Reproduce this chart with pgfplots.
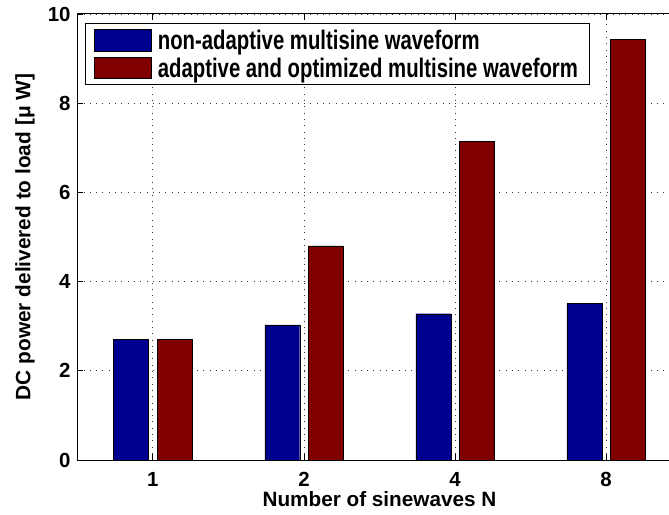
\documentclass[border=0pt]{standalone}
\usepackage{fontspec}
\setmainfont{Liberation Sans}
\usepackage{graphicx}
\usepackage{pgfplots}
\pgfplotsset{compat=1.18}
\definecolor{barblue}{RGB}{0,0,143}
\definecolor{barred}{RGB}{128,0,0}
\pgfplotsset{barlegend/.style={legend image code/.code={\draw[##1] (0bp,-10.95bp) rectangle (57.3bp,10.95bp);}}}
\newcommand{\lgt}[1]{\scalebox{1}[1.32]{\bfseries\fontsize{20.4}{24}\selectfont #1}}
\begin{document}
\begin{tikzpicture}
\begin{axis}[
  name=ax,
  scale only axis, width=591.7bp, height=446bp,
  xmin=0.5, xmax=4.416, ymin=0, ymax=10,
  xtick={1,2,3,4}, xticklabels={1,2,4,8},
  ytick={0,2,4,6,8,10},
  axis y line*=left,
  axis line style={line width=1bp, black},
  tick style={black, line width=0.8bp},
  major tick length=6bp,
  tick align=inside,
  grid=major,
  major grid style={black!80, line width=0.7bp, dash pattern=on 0.8bp off 5.5bp},
  font=\bfseries\fontsize{20.5}{24}\selectfont,
  /pgf/number format/assume math mode=true,
  every x tick label/.append style={anchor=base, yshift=-26.7bp, inner sep=0pt, font=\bfseries\fontsize{20.5}{24}\selectfont},
  every y tick label/.append style={anchor=east, xshift=-6.6bp, inner sep=0pt, font=\bfseries\fontsize{20.5}{24}\selectfont},
  xlabel={Number of sinewaves N},
  ylabel={DC power delivered to load [μ W]},
  every axis x label/.style={at={([yshift=-46.7bp]axis description cs:0.5107,0)}, anchor=base, font=\bfseries\fontsize{20.8}{24}\selectfont},
  every axis y label/.style={at={([xshift=-47bp]axis description cs:0,0.5)}, anchor=base, rotate=90, font=\bfseries\fontsize{20.9}{24}\selectfont},
  legend style={at={(axis description cs:0,1)}, anchor=north west, xshift=7.7bp, yshift=-8.7bp,
    draw=black, line width=1.3bp, fill=white, inner xsep=8.5bp, inner ysep=5.5bp, row sep=5.4bp, column sep=3bp,
    font=\bfseries\fontsize{20.4}{24}\selectfont,
    nodes={inner xsep=3bp, inner ysep=0bp, text height=20.6bp, text depth=1.3bp}},
  legend cell align=left,
]
\addplot[ybar, bar width=0.2316, bar shift=-0.1436, fill=barblue, draw=black, line width=0.4bp, barlegend]
  coordinates {(1,2.705) (2,3.03) (3,3.28) (4,3.505)};
\addlegendentry{\lgt{non-adaptive multisine waveform}}
\addplot[ybar, bar width=0.2316, bar shift=0.1436, fill=barred, draw=black, line width=0.4bp, barlegend]
  coordinates {(1,2.705) (2,4.80) (3,7.145) (4,9.43)};
\addlegendentry{\lgt{adaptive and optimized multisine waveform}}
\end{axis}
\pgfresetboundingbox
\path[use as bounding box] ([xshift=-77.3bp,yshift=-55bp]ax.south west) rectangle ++(669bp,515bp);
\end{tikzpicture}
\end{document}
